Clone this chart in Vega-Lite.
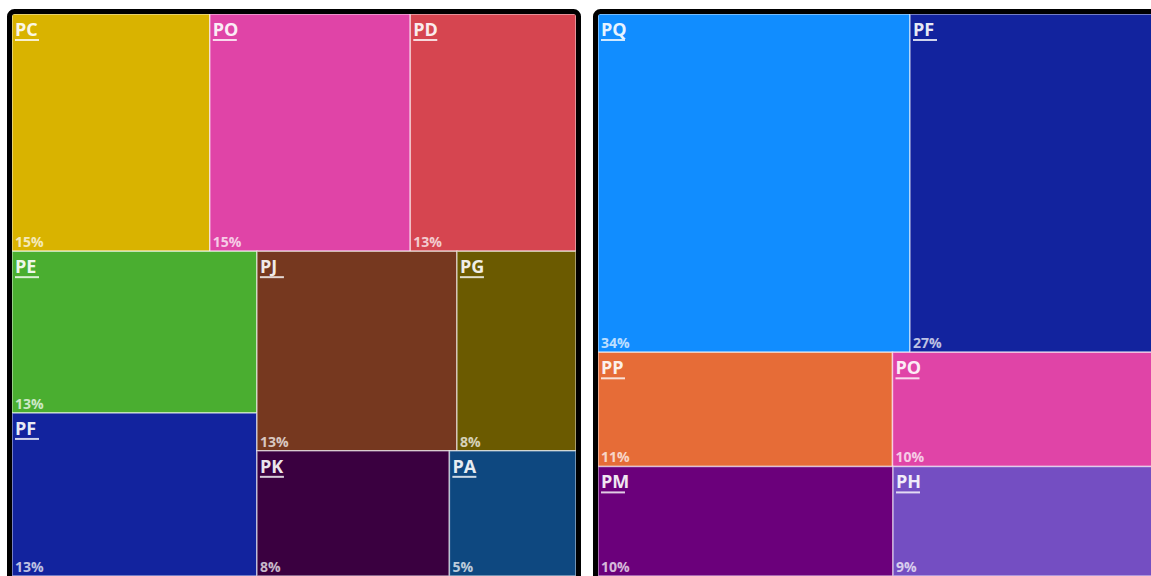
{
  "$schema": "https://vega.github.io/schema/vega-lite/v6.json",
  "width": 1151,
  "height": 576,
  "autosize": {"type": "none"},
  "padding": 0,
  "background": "white",
  "config": {"view": {"stroke": null}},
  "data": {
    "values": [
      {"panel": "A", "seq": 1, "band": 1, "col": 1, "row": 1, "name": "PC", "value": 14.8, "label": "15%"},
      {"panel": "A", "seq": 2, "band": 1, "col": 1, "row": 1, "name": "PO", "value": 15.0, "label": "15%"},
      {"panel": "A", "seq": 3, "band": 1, "col": 1, "row": 1, "name": "PD", "value": 12.4, "label": "13%"},
      {"panel": "A", "seq": 4, "band": 2, "col": 1, "row": 1, "name": "PE", "value": 12.5, "label": "13%"},
      {"panel": "A", "seq": 5, "band": 2, "col": 1, "row": 2, "name": "PF", "value": 12.6, "label": "13%"},
      {"panel": "A", "seq": 6, "band": 2, "col": 2, "row": 1, "name": "PJ", "value": 12.6, "label": "13%"},
      {"panel": "A", "seq": 7, "band": 2, "col": 2, "row": 1, "name": "PG", "value": 7.5, "label": "8%"},
      {"panel": "A", "seq": 8, "band": 2, "col": 2, "row": 2, "name": "PK", "value": 7.6, "label": "8%"},
      {"panel": "A", "seq": 9, "band": 2, "col": 2, "row": 2, "name": "PA", "value": 5.0, "label": "5%"},
      {"panel": "B", "seq": 1, "band": 1, "col": 1, "row": 1, "name": "PQ", "value": 33.3, "label": "34%"},
      {"panel": "B", "seq": 2, "band": 1, "col": 1, "row": 1, "name": "PF", "value": 26.9, "label": "27%"},
      {"panel": "B", "seq": 3, "band": 2, "col": 1, "row": 1, "name": "PP", "value": 10.6, "label": "11%"},
      {"panel": "B", "seq": 4, "band": 2, "col": 1, "row": 1, "name": "PO", "value": 9.7, "label": "10%"},
      {"panel": "B", "seq": 5, "band": 2, "col": 1, "row": 2, "name": "PM", "value": 10.2, "label": "10%"},
      {"panel": "B", "seq": 6, "band": 2, "col": 1, "row": 2, "name": "PH", "value": 9.3, "label": "9%"}
    ]
  },
  "transform": [
    {"joinaggregate": [{"op": "sum", "field": "value", "as": "total"}], "groupby": ["panel"]},
    {"stack": "value", "groupby": ["panel"], "sort": [{"field": "seq", "order": "ascending"}], "as": ["s0", "s1"]},
    {"joinaggregate": [{"op": "min", "field": "s0", "as": "b0"}, {"op": "max", "field": "s1", "as": "b1"}], "groupby": ["panel", "band"]},
    {"joinaggregate": [{"op": "min", "field": "s0", "as": "c0"}, {"op": "max", "field": "s1", "as": "c1"}], "groupby": ["panel", "band", "col"]},
    {"joinaggregate": [{"op": "min", "field": "s0", "as": "r0"}, {"op": "max", "field": "s1", "as": "r1"}], "groupby": ["panel", "band", "col", "row"]},
    {"calculate": "datum.b0 / datum.total", "as": "by0"},
    {"calculate": "datum.b1 / datum.total", "as": "by1"},
    {"calculate": "(datum.c0 - datum.b0) / (datum.b1 - datum.b0)", "as": "cx0"},
    {"calculate": "(datum.c1 - datum.b0) / (datum.b1 - datum.b0)", "as": "cx1"},
    {"calculate": "datum.by0 + (datum.by1 - datum.by0) * (datum.r0 - datum.c0) / (datum.c1 - datum.c0)", "as": "py0"},
    {"calculate": "datum.by0 + (datum.by1 - datum.by0) * (datum.r1 - datum.c0) / (datum.c1 - datum.c0)", "as": "py1"},
    {"calculate": "datum.panel === 'B' ? 1.039 : 0", "as": "off"},
    {"calculate": "datum.off + datum.cx0 + (datum.cx1 - datum.cx0) * (datum.s0 - datum.r0) / (datum.r1 - datum.r0)", "as": "px0"},
    {"calculate": "datum.off + datum.cx0 + (datum.cx1 - datum.cx0) * (datum.s1 - datum.r0) / (datum.r1 - datum.r0)", "as": "px1"}
  ],
  "encoding": {
    "x": {"field": "px0", "type": "quantitative", "axis": null, "scale": {"domain": [-0.021277, 2.019504], "nice": false, "zero": false}},
    "y": {"field": "py0", "type": "quantitative", "axis": null, "scale": {"domain": [-0.024911, 1.0], "nice": false, "zero": false, "reverse": true}}
  },
  "layer": [
    {
      "mark": {"type": "rect", "stroke": "#ffffff", "strokeWidth": 1.5, "strokeOpacity": 0.55, "clip": true},
      "encoding": {
        "x2": {"field": "px1"},
        "y2": {"field": "py1"},
        "color": {
          "field": "name",
          "type": "nominal",
          "legend": null,
          "scale": {
            "domain": ["PC", "PO", "PD", "PE", "PF", "PJ", "PG", "PK", "PA", "PQ", "PP", "PM", "PH"],
            "range": ["#D9B300", "#E044A7", "#D64550", "#4AAE30", "#12239E", "#76381F", "#6B5A00", "#3A0040", "#0E4880", "#118DFF", "#E66C37", "#6B007B", "#744EC2"]
          }
        }
      }
    },
    {
      "mark": {"type": "text", "align": "left", "baseline": "alphabetic", "dx": 3, "dy": 22, "font": "Open Sans", "fontSize": 18, "fontWeight": "bold", "fill": "#ffffff", "opacity": 0.9, "clip": true},
      "encoding": {"text": {"field": "name"}}
    },
    {
      "mark": {"type": "rule", "xOffset": 3, "x2Offset": 27, "yOffset": 26, "strokeWidth": 2, "stroke": "#ffffff", "opacity": 0.8, "clip": true},
      "encoding": {"x2": {"field": "px0"}}
    },
    {
      "mark": {"type": "text", "align": "left", "baseline": "alphabetic", "dx": 3, "dy": -4, "font": "Open Sans", "fontSize": 14, "fontWeight": "bold", "fill": "#ffffff", "opacity": 0.72, "clip": true},
      "encoding": {"y": {"field": "py1", "type": "quantitative"}, "text": {"field": "label"}}
    },
    {
      "transform": [
        {"aggregate": [
          {"op": "min", "field": "px0", "as": "bx0"},
          {"op": "max", "field": "px1", "as": "bx1"},
          {"op": "min", "field": "py0", "as": "by0b"},
          {"op": "max", "field": "py1", "as": "by1b"}
        ], "groupby": ["panel"]}
      ],
      "mark": {"type": "rect", "fill": null, "fillOpacity": 0, "stroke": "#000000", "strokeWidth": 5, "cornerRadius": 5, "xOffset": -2.5, "x2Offset": 2.5, "yOffset": -2.5, "y2Offset": 12, "clip": true},
      "encoding": {
        "x": {"field": "bx0", "type": "quantitative"},
        "x2": {"field": "bx1"},
        "y": {"field": "by0b", "type": "quantitative"},
        "y2": {"field": "by1b"}
      }
    }
  ]
}
